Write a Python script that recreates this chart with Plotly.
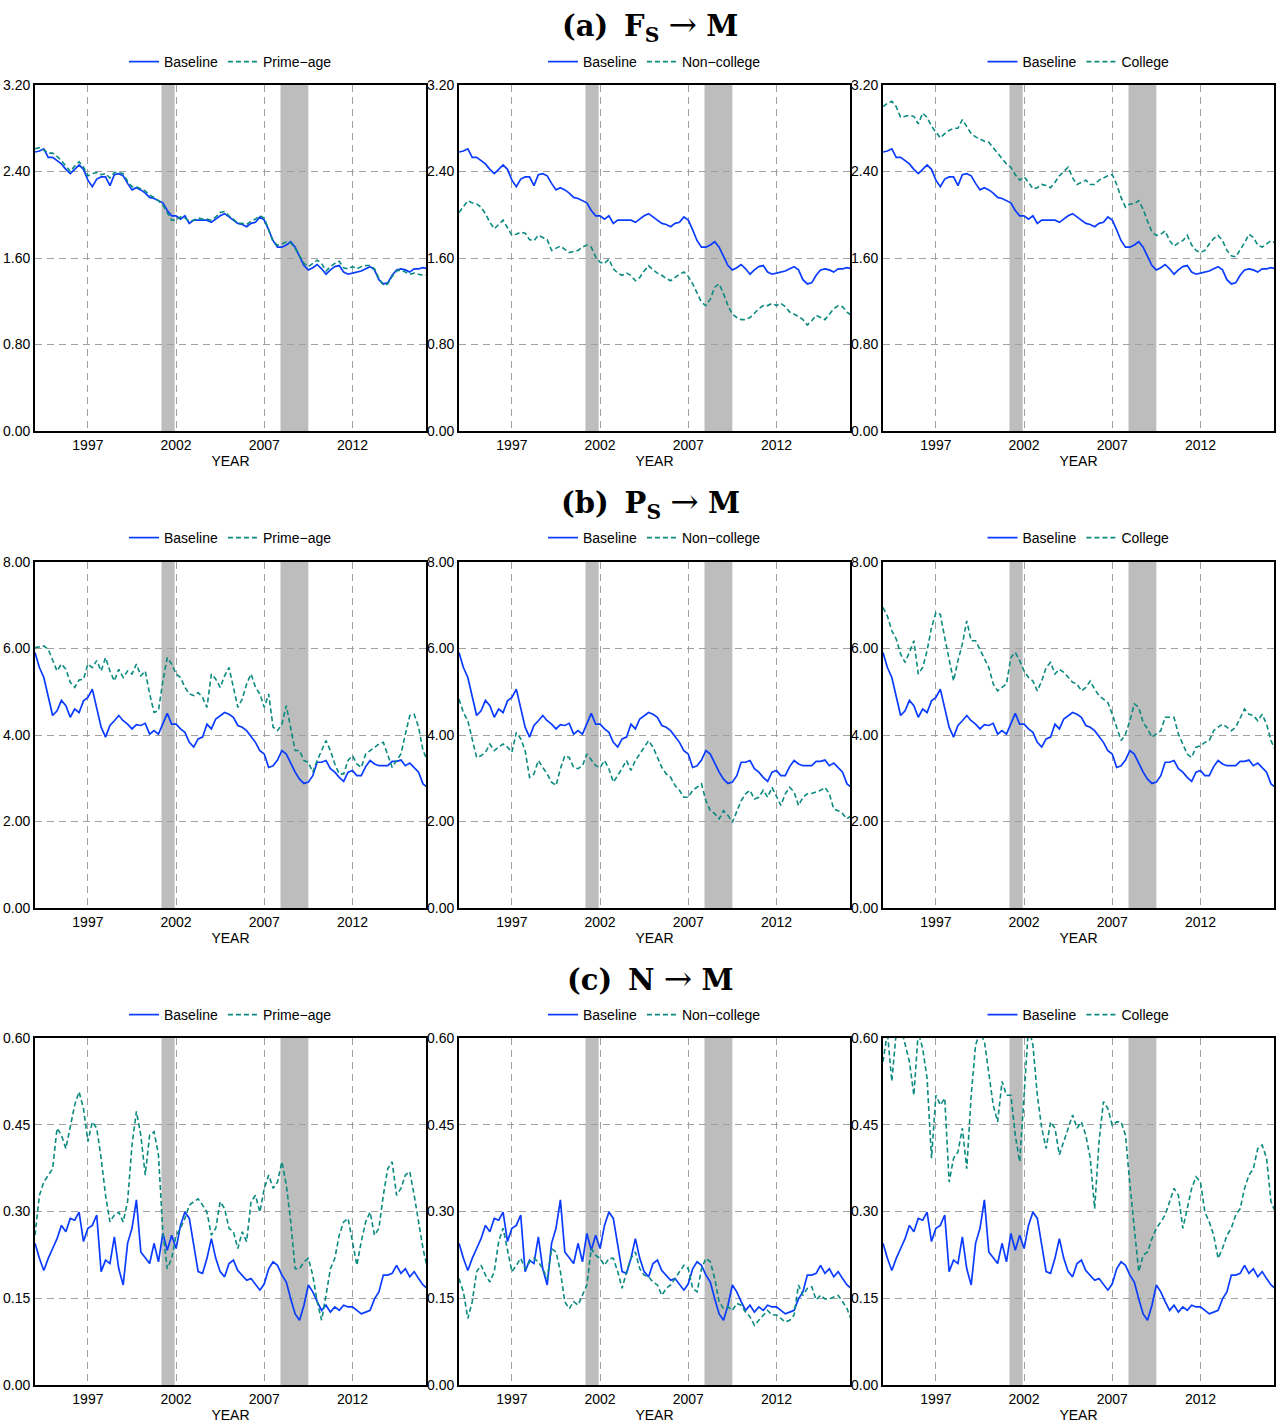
import plotly.graph_objects as go

# ---------------- data (quarterly readings, 1994Q1 .. 2016Q2) ----------------
years = [1994 + 0.25 * i for i in range(90)]

base_a = [2.58,2.59,2.61,2.53, 2.53,2.50,2.47,2.42, 2.38,2.42,2.46,2.42, 2.32,2.26,2.33,2.35,
          2.35,2.27,2.37,2.38, 2.36,2.29,2.23,2.25, 2.23,2.20,2.16,2.15, 2.13,2.11,2.04,1.99,
          1.99,1.96,1.99,1.92, 1.95,1.95,1.95,1.95, 1.93,1.96,1.99,2.01, 1.98,1.95,1.92,1.91,
          1.89,1.92,1.93,1.98, 1.95,1.86,1.76,1.70, 1.70,1.72,1.75,1.70, 1.61,1.53,1.49,1.51,
          1.54,1.50,1.45,1.49, 1.52,1.53,1.47,1.45, 1.46,1.47,1.48,1.50, 1.52,1.49,1.40,1.36,
          1.37,1.44,1.49,1.50, 1.49,1.47,1.50,1.50, 1.51,1.50]
prime_a = [2.61,2.62,2.60,2.57, 2.57,2.54,2.50,2.45, 2.40,2.45,2.49,2.44, 2.36,2.38,2.39,2.37,
           2.38,2.34,2.39,2.39, 2.38,2.31,2.26,2.26, 2.24,2.22,2.18,2.16, 2.13,2.09,2.02,1.95,
           1.95,1.98,1.97,1.94, 1.95,1.97,1.96,1.96, 1.95,1.98,2.02,2.03, 1.99,1.96,1.92,1.92,
           1.91,1.94,1.96,1.99, 1.97,1.85,1.75,1.72, 1.73,1.75,1.74,1.69, 1.62,1.55,1.52,1.55,
           1.58,1.55,1.48,1.52, 1.55,1.57,1.51,1.50, 1.52,1.50,1.52,1.53, 1.53,1.50,1.41,1.35,
           1.36,1.43,1.48,1.49, 1.47,1.45,1.46,1.45, 1.44,1.44]
noncol_a = [2.02,2.08,2.13,2.11, 2.10,2.07,2.01,1.93, 1.87,1.91,1.95,1.88, 1.81,1.82,1.84,1.83,
            1.77,1.76,1.81,1.79, 1.77,1.67,1.69,1.71, 1.68,1.65,1.66,1.67, 1.70,1.72,1.70,1.61,
            1.56,1.55,1.59,1.50, 1.46,1.44,1.46,1.44, 1.39,1.42,1.48,1.53, 1.49,1.46,1.44,1.41,
            1.39,1.42,1.45,1.47, 1.43,1.36,1.28,1.19, 1.16,1.22,1.33,1.36, 1.27,1.16,1.08,1.05,
            1.03,1.03,1.05,1.09, 1.13,1.16,1.16,1.18, 1.16,1.18,1.15,1.10, 1.08,1.06,1.03,0.98,
            1.02,1.07,1.05,1.03, 1.08,1.13,1.16,1.15, 1.10,1.07]
col_a = [3.00,3.03,3.05,3.00, 2.90,2.91,2.92,2.91, 2.84,2.94,2.90,2.82, 2.77,2.71,2.75,2.78,
         2.80,2.80,2.88,2.82, 2.75,2.72,2.70,2.68, 2.67,2.62,2.57,2.53, 2.47,2.44,2.37,2.32,
         2.35,2.30,2.24,2.25, 2.28,2.27,2.25,2.30, 2.36,2.40,2.44,2.34, 2.28,2.30,2.32,2.28,
         2.28,2.32,2.34,2.36, 2.37,2.28,2.16,2.07, 2.10,2.10,2.13,2.05, 1.94,1.84,1.81,1.82,
         1.85,1.76,1.71,1.74, 1.76,1.81,1.72,1.67, 1.65,1.67,1.73,1.78, 1.81,1.76,1.67,1.62,
         1.61,1.67,1.74,1.82, 1.79,1.72,1.70,1.73, 1.76,1.74]

base_b = [5.91,5.56,5.33,4.87, 4.45,4.56,4.80,4.68, 4.41,4.60,4.52,4.79, 4.87,5.06,4.60,4.18,
          3.95,4.22,4.33,4.45, 4.33,4.25,4.14,4.24, 4.22,4.27,4.02,4.10, 4.02,4.25,4.50,4.25,
          4.25,4.14,4.06,3.83, 3.72,3.91,3.95,4.25, 4.14,4.37,4.45,4.52, 4.48,4.41,4.22,4.18,
          4.10,3.95,3.83,3.64, 3.56,3.25,3.29,3.42, 3.64,3.56,3.33,3.14, 2.98,2.88,2.91,3.06,
          3.37,3.37,3.41,3.22, 3.14,3.02,2.93,3.14, 3.18,3.06,3.06,3.27, 3.41,3.33,3.29,3.29,
          3.29,3.39,3.39,3.42, 3.29,3.35,3.24,3.14, 2.87,2.79]
prime_b = [6.02,6.04,6.06,5.98, 5.72,5.48,5.64,5.52, 5.22,5.10,5.27,5.29, 5.64,5.56,5.72,5.48,
           5.79,5.48,5.25,5.52, 5.33,5.48,5.41,5.64, 5.37,5.48,4.95,4.52, 4.56,5.25,5.79,5.64,
           5.41,5.33,5.10,4.95, 4.91,4.98,4.87,4.64, 5.41,5.29,5.10,5.37, 5.56,5.10,4.64,4.83,
           5.18,5.41,5.10,4.95, 4.64,4.95,4.18,4.10, 4.25,4.68,4.18,3.64, 3.64,3.41,3.37,3.14,
           3.41,3.64,3.87,3.64, 3.33,3.10,3.10,3.41, 3.52,3.33,3.25,3.56, 3.64,3.72,3.79,3.83,
           3.56,3.25,3.41,3.56, 4.02,4.45,4.48,4.18, 3.64,3.41]
noncol_b = [4.83,4.52,4.33,3.87, 3.48,3.52,3.60,3.79, 3.64,3.72,3.79,3.72, 3.60,4.06,3.91,3.64,
            3.02,3.10,3.41,3.25, 3.10,2.91,2.83,3.22, 3.52,3.48,3.25,3.22, 3.29,3.56,3.41,3.29,
            3.25,3.41,3.22,2.91, 3.06,3.25,3.41,3.18, 3.41,3.56,3.72,3.87, 3.72,3.48,3.25,3.10,
            3.02,2.83,2.72,2.56, 2.56,2.72,2.79,2.87, 2.48,2.25,2.18,2.06, 2.25,2.14,1.98,2.25,
            2.48,2.64,2.72,2.52, 2.56,2.72,2.56,2.79, 2.56,2.37,2.64,2.79, 2.68,2.37,2.56,2.64,
            2.65,2.68,2.72,2.79, 2.64,2.29,2.25,2.18, 2.06,2.14]
col_b = [6.95,6.75,6.41,6.22, 5.87,5.68,5.91,6.18, 5.41,5.56,5.95,6.48, 6.83,6.79,6.25,5.72,
         5.25,5.72,6.10,6.64, 6.18,6.18,5.98,5.79, 5.56,5.18,5.02,5.10, 5.18,5.79,5.91,5.72,
         5.48,5.33,5.25,5.02, 5.25,5.56,5.68,5.41, 5.52,5.45,5.33,5.22, 5.18,5.02,5.10,5.25,
         5.06,4.91,4.83,4.75, 4.48,4.18,3.87,4.02, 4.33,4.72,4.64,4.29, 4.14,3.95,4.02,4.10,
         4.41,4.41,4.41,4.02, 3.79,3.56,3.48,3.72, 3.75,3.83,3.87,4.10, 4.18,4.25,4.18,4.10,
         4.18,4.41,4.60,4.48, 4.45,4.33,4.48,4.25, 3.87,3.64]

base_c = [.245,.219,.198,.219, .236,.253,.276,.265, .288,.285,.299,.248, .271,.276,.294,.196,
          .216,.210,.256,.201, .173,.245,.271,.320, .230,.219,.210,.245, .213,.262,.233,.259,
          .236,.276,.299,.288, .245,.196,.193,.219, .253,.219,.196,.187, .210,.216,.198,.190,
          .181,.184,.173,.164, .175,.201,.213,.207, .190,.178,.149,.123, .112,.138,.173,.161,
          .144,.129,.138,.126, .135,.129,.138,.135, .135,.129,.123,.126, .129,.149,.161,.190,
          .190,.193,.207,.193, .201,.187,.196,.184, .173,.167]
prime_c = [.259,.328,.351,.363, .374,.444,.432,.409, .449,.484,.507,.478, .421,.455,.444,.392,
           .328,.282,.294,.299, .282,.317,.415,.473, .432,.363,.432,.438, .398,.265,.201,.219,
           .259,.271,.288,.311, .317,.322,.311,.299, .259,.271,.317,.305, .271,.265,.236,.265,
           .248,.317,.328,.299, .340,.363,.340,.351, .386,.346,.282,.201, .201,.213,.219,.190,
           .144,.112,.155,.201, .219,.259,.282,.288, .248,.207,.248,.282, .299,.259,.271,.328,
           .374,.386,.328,.340, .363,.369,.328,.282, .236,.201]
noncol_c = [.184,.161,.115,.144, .196,.207,.190,.178, .196,.248,.271,.236, .196,.207,.219,.201,
            .213,.219,.213,.201, .184,.236,.230,.196, .144,.132,.144,.138, .155,.173,.236,.224,
            .219,.207,.219,.219, .196,.167,.196,.219, .230,.201,.190,.187, .178,.173,.155,.167,
            .173,.184,.196,.207, .201,.167,.161,.201, .219,.213,.184,.144, .132,.135,.129,.141,
            .138,.126,.118,.103, .112,.121,.129,.121, .121,.115,.109,.112, .121,.173,.155,.167,
            .170,.147,.155,.149, .149,.152,.155,.144, .132,.112]
col_c = [.559,.610,.525,.610, .620,.588,.559,.501, .610,.582,.530,.392, .501,.484,.496,.351,
         .392,.403,.444,.374, .501,.588,.610,.594, .536,.484,.455,.525, .501,.501,.432,.386,
         .501,.620,.588,.501, .444,.409,.455,.444, .398,.421,.444,.467, .444,.455,.432,.392,
         .305,.421,.490,.478, .449,.455,.455,.432, .346,.271,.196,.224, .230,.253,.271,.282,
         .294,.317,.340,.328, .271,.305,.340,.360, .351,.299,.282,.259, .219,.236,.259,.271,
         .294,.305,.340,.363, .374,.409,.415,.392, .317,.299]

alt_names = ["Prime\u2212age", "Non\u2212college", "College"]
row_titles = ["<b>(a)\u2009 F<sub>S</sub></b> <span style='font-size:34px'>\u2192</span> <b>M</b>",
              "<b>(b)\u2009 P<sub>S</sub></b> <span style='font-size:34px'>\u2192</span> <b>M</b>",
              "<b>(c)\u2009 N</b> <span style='font-size:34px'>\u2192</span> <b>M</b>"]
row_base = [base_a, base_b, base_c]
row_alts = [[prime_a, noncol_a, col_a], [prime_b, noncol_b, col_b], [prime_c, noncol_c, col_c]]
row_yrange = [[0, 3.2], [0, 8], [0, 0.6]]
row_yticks = [[0, 0.8, 1.6, 2.4, 3.2], [0, 2, 4, 6, 8], [0, 0.15, 0.30, 0.45, 0.60]]
xticks = [1997, 2002, 2007, 2012]
recessions = [(2001.17, 2001.92), (2007.92, 2009.5)]

# ---------------- layout geometry ----------------
W, H = 1277, 1425
col_px = [(35, 426), (459, 850), (883, 1274)]
row_px = [(85, 431), (562, 908), (1038, 1385)]
title_y_px = [25, 502, 978]
legend_y_px = [62, 538, 1015]

BLUE = "#0a3cff"
TEAL = "#0b8a80"
FONT = "Liberation Sans Narrow, Liberation Sans, Arial, sans-serif"

fig = go.Figure()
layout = dict(width=W, height=H,
              margin=dict(l=0, r=0, t=0, b=0, pad=0, autoexpand=False),
              paper_bgcolor="white", plot_bgcolor="white", showlegend=True,
              font=dict(family=FONT, size=14, color="black"))
shapes, annotations = [], []

for r in range(3):
    for c in range(3):
        k = r * 3 + c + 1
        xa = "x" if k == 1 else f"x{k}"
        ya = "y" if k == 1 else f"y{k}"
        lg = "legend" if k == 1 else f"legend{k}"
        x0, x1 = col_px[c]
        y0, y1 = row_px[r]
        layout["xaxis" if k == 1 else f"xaxis{k}"] = dict(
            domain=[x0 / W, x1 / W], anchor=ya, range=[1994, 2016.17],
            tickvals=xticks, ticktext=[str(t) for t in xticks], ticks="",
            showgrid=True, gridcolor="#a0a0a0", griddash="7px,5px", gridwidth=1,
            showline=True, linecolor="black", linewidth=1.8, mirror=True,
            zeroline=False, tickfont=dict(size=14), automargin=False,
            title=dict(text="YEAR", font=dict(size=14), standoff=2))
        layout["yaxis" if k == 1 else f"yaxis{k}"] = dict(
            domain=[1 - y1 / H, 1 - y0 / H], anchor=xa, range=row_yrange[r],
            tickvals=row_yticks[r], tickformat=".2f", ticks="",
            showgrid=True, gridcolor="#a0a0a0", griddash="7px,5px", gridwidth=1,
            showline=True, linecolor="black", linewidth=1.8, mirror=True,
            zeroline=False, tickfont=dict(size=14), automargin=False)
        layout[lg] = dict(x=(x0 + x1) / 2 / W, y=1 - legend_y_px[r] / H,
                          xanchor="center", yanchor="middle", orientation="h",
                          bgcolor="rgba(0,0,0,0)", font=dict(size=14),
                          itemwidth=30, tracegroupgap=0)
        for (a, b) in recessions:
            shapes.append(dict(type="rect", xref=xa, yref=f"{ya} domain", x0=a, x1=b,
                               y0=0, y1=1, fillcolor="#bdbdbd", line=dict(width=0),
                               layer="below"))
        fig.add_trace(go.Scatter(x=years, y=row_base[r], mode="lines", name="Baseline",
                                 line=dict(color=BLUE, width=1.7), xaxis=xa, yaxis=ya,
                                 legend=lg))
        fig.add_trace(go.Scatter(x=years, y=row_alts[r][c], mode="lines", name=alt_names[c],
                                 line=dict(color=TEAL, width=1.6, dash="5px,3px"),
                                 xaxis=xa, yaxis=ya, legend=lg))
    annotations.append(dict(text=row_titles[r], xref="paper", yref="paper",
                            x=650 / W, y=1 - title_y_px[r] / H, xanchor="center",
                            yanchor="middle", showarrow=False,
                            font=dict(family="DejaVu Serif, Liberation Serif, serif",
                                      size=29, color="black")))

layout["shapes"] = shapes
layout["annotations"] = annotations
fig.update_layout(**layout)
fig.write_html(
    "out.html",
    config={"displayModeBar": False},
    post_script=("document.documentElement.style.margin='0';"
                 "document.body.style.margin='0';"
                 "document.body.style.padding='0';"
                 "document.documentElement.style.overflow='hidden';"),
)
